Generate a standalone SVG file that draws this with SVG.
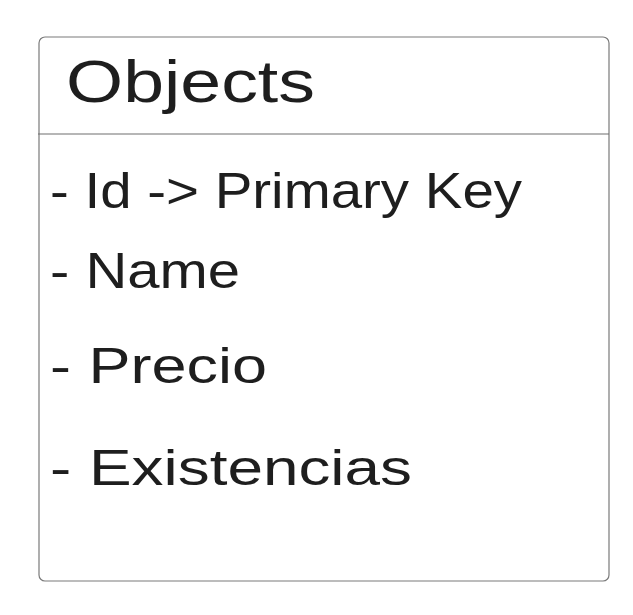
<svg xmlns="http://www.w3.org/2000/svg" width="633" height="615" viewBox="0 0 633 615">
<style>
.box{fill:#ffffff;stroke:#7a7a7a;stroke-width:1.2}
.div{stroke:#6e6e6e;stroke-width:1.2}
.t{font-family:"Liberation Sans","DejaVu Sans",sans-serif;fill:#1e1e1e}
.h{font-size:60px}
.f{font-size:50px}
</style>
<rect width="633" height="615" fill="#ffffff"/>
<g id="objects">
<rect class="box" x="39" y="37" width="570" height="544" rx="6" ry="6"/>
<line class="div" x1="38" y1="134" x2="609" y2="134"/>
<text class="t h" x="66" y="102" textLength="249" lengthAdjust="spacingAndGlyphs">Objects</text>
<text class="t f" x="50" y="208" textLength="472" lengthAdjust="spacingAndGlyphs">- Id -&gt; Primary Key</text>
<text class="t f" x="50" y="288" textLength="190" lengthAdjust="spacingAndGlyphs">- Name</text>
<text class="t f" x="50" y="383" textLength="217" lengthAdjust="spacingAndGlyphs">- Precio</text>
<text class="t f" x="50" y="485" textLength="362" lengthAdjust="spacingAndGlyphs">- Existencias</text>
</g>
<g id="connectors"/>
</svg>
